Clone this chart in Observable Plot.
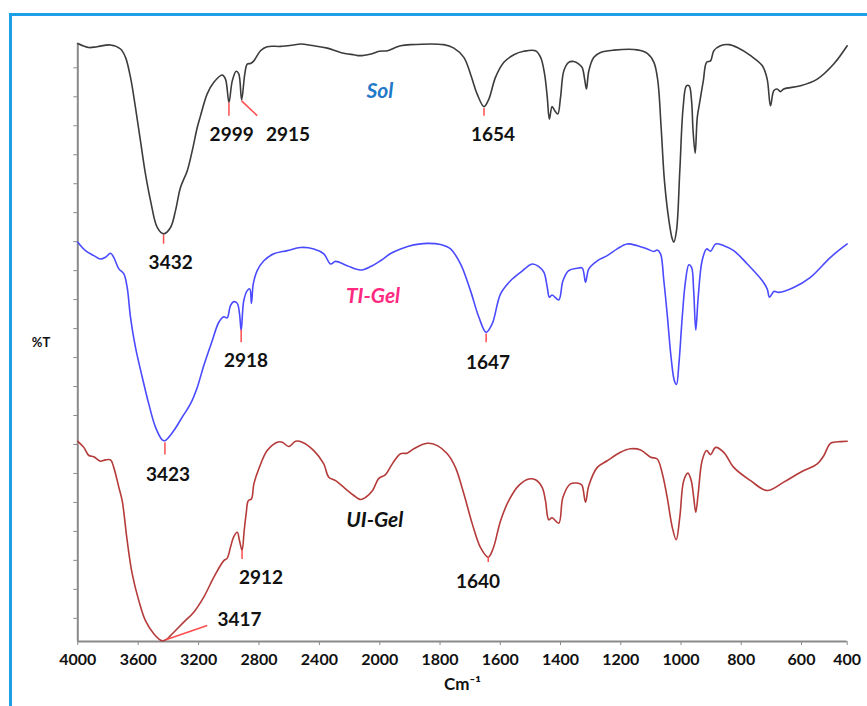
<!DOCTYPE html>
<html><head><meta charset="utf-8">
<script src="https://cdn.jsdelivr.net/npm/d3@7"></script>
<script src="https://cdn.jsdelivr.net/npm/@observablehq/plot@0.6"></script>
<style>
html,body{margin:0;padding:0;background:#fff;}
#wrap{position:relative;width:867px;height:706px;overflow:hidden;}
#frame{position:absolute;left:9px;top:13px;width:900px;height:800px;border-left:3px solid #1ea0e8;border-top:3px solid #1ea0e8;}
#chart{position:absolute;left:0;top:0;}
</style></head><body><div id="wrap"><div id="frame"></div><div id="chart"></div></div>
<script>
// Wavenumber (cm-1) and %T pairs
const solData = [[4000,208.4],[3927,207.0],[3872,207.3],[3783,207.9],[3717,206.5],[3684,203.6],[3651,196.7],[3618,186.3],[3585,174.8],[3552,163.4],[3518,154.1],[3474,144.9],[3432,142.7],[3386,144.9],[3353,150.7],[3320,158.7],[3275,164.5],[3242,171.4],[3209,179.4],[3187,183.5],[3143,191.0],[3099,195.0],[3044,197.5],[3022,196.1],[2999,188.1],[2977,195.5],[2951,198.8],[2934,197.9],[2915,188.9],[2894,197.9],[2878,201.3],[2856,201.5],[2834,202.4],[2790,205.9],[2746,207.3],[2658,207.4],[2569,207.9],[2525,208.2],[2437,207.6],[2348,206.8],[2260,205.3],[2172,204.5],[2132,204.2],[2058,204.8],[2004,205.7],[1974,205.9],[1948,207.0],[1931,207.6],[1898,208.0],[1788,208.0],[1754,206.8],[1721,203.6],[1699,197.9],[1677,191.0],[1654,186.6],[1638,189.2],[1616,196.7],[1588,201.9],[1555,204.5],[1522,205.7],[1483,205.9],[1466,203.6],[1453,197.9],[1444,189.8],[1437,182.3],[1428,186.6],[1419,185.2],[1409,184.1],[1400,189.8],[1389,199.0],[1373,201.9],[1356,202.2],[1339,201.3],[1328,200.1],[1320,196.1],[1314,192.7],[1306,199.0],[1290,203.6],[1267,205.3],[1223,206.1],[1145,206.2],[1112,205.0],[1090,201.9],[1077,195.5],[1066,179.4],[1055,161.0],[1040,147.2],[1029,140.9],[1024,139.8],[1015,143.8],[1004,164.5],[993,186.3],[982,193.8],[973,193.8],[965,188.6],[960,178.3],[953,170.5],[946,182.9],[938,188.1],[926,195.5],[915,201.9],[902,202.4],[891,205.9],[869,207.6],[841,208.0],[813,207.0],[769,204.2],[730,200.7],[714,196.1],[703,186.9],[692,192.1],[681,192.7],[670,191.8],[659,192.7],[603,193.8],[531,196.1],[459,201.3],[400,207.6]];

const tiGelData = [[4000,139.8],[3949,136.9],[3894,135.2],[3850,134.0],[3817,134.6],[3783,136.0],[3762,134.6],[3728,130.6],[3695,128.9],[3673,124.2],[3651,113.9],[3618,103.5],[3573,93.2],[3530,84.0],[3485,75.9],[3441,71.6],[3423,71.3],[3364,74.8],[3309,79.4],[3254,84.0],[3209,89.7],[3166,97.2],[3110,105.8],[3066,112.2],[3033,114.1],[3011,113.7],[2989,117.9],[2967,119.3],[2944,118.7],[2929,115.1],[2918,109.3],[2901,119.6],[2878,123.1],[2861,123.7],[2850,118.7],[2838,125.4],[2812,130.0],[2768,133.4],[2702,135.8],[2613,136.9],[2525,138.0],[2437,137.5],[2371,135.8],[2326,132.3],[2293,133.2],[2216,131.7],[2128,130.2],[2061,131.4],[1998,133.4],[1964,135.9],[1931,137.5],[1887,138.9],[1843,139.4],[1798,139.0],[1765,137.5],[1732,132.3],[1699,123.1],[1671,113.9],[1647,108.7],[1627,111.6],[1599,122.0],[1566,126.5],[1533,129.4],[1494,132.3],[1472,131.4],[1455,129.4],[1444,124.2],[1437,120.8],[1428,121.6],[1406,119.9],[1392,126.5],[1373,130.0],[1345,130.8],[1328,130.9],[1317,126.0],[1306,130.6],[1278,133.4],[1245,135.2],[1212,137.5],[1179,139.2],[1145,138.6],[1112,137.5],[1090,136.6],[1079,137.1],[1068,135.8],[1057,126.5],[1046,115.1],[1033,100.1],[1022,92.0],[1015,90.7],[1007,97.8],[996,113.9],[985,126.5],[974,132.0],[965,131.1],[958,123.1],[951,109.5],[943,120.8],[930,133.4],[915,137.5],[902,136.7],[885,139.2],[858,138.6],[825,136.9],[780,132.3],[730,126.5],[714,123.7],[706,120.8],[692,122.8],[675,122.5],[626,124.2],[561,127.7],[473,134.6],[400,139.2]];

const uiGelData = [[4000,71.1],[3960,69.0],[3927,66.2],[3894,65.8],[3850,64.2],[3817,64.7],[3783,64.7],[3762,62.1],[3728,55.2],[3706,50.6],[3673,36.8],[3640,25.4],[3596,16.1],[3552,9.2],[3497,4.7],[3445,2.3],[3417,2.6],[3364,5.2],[3298,8.7],[3232,12.1],[3166,17.3],[3099,24.2],[3033,29.9],[3011,30.7],[2989,34.5],[2967,38.2],[2944,39.7],[2929,36.8],[2912,33.4],[2898,40.3],[2885,46.1],[2871,50.6],[2850,51.2],[2834,56.4],[2801,61.6],[2746,67.9],[2679,70.8],[2646,70.8],[2603,69.3],[2558,71.1],[2514,70.8],[2437,67.9],[2371,63.3],[2338,58.7],[2293,57.5],[2227,54.7],[2172,52.4],[2128,51.0],[2095,51.7],[2048,54.1],[2008,58.2],[1981,59.6],[1958,63.4],[1931,66.8],[1909,67.0],[1887,68.5],[1843,70.4],[1809,69.6],[1776,66.8],[1749,62.1],[1721,53.0],[1693,42.6],[1666,34.5],[1640,31.1],[1624,34.0],[1599,43.7],[1572,50.6],[1539,55.8],[1505,58.1],[1483,57.8],[1461,55.2],[1450,50.6],[1439,44.0],[1428,44.7],[1406,42.8],[1392,51.8],[1367,56.4],[1334,56.4],[1328,55.8],[1317,50.1],[1306,55.8],[1278,62.1],[1245,64.4],[1201,67.3],[1168,68.5],[1134,68.1],[1101,65.6],[1079,65.0],[1062,59.9],[1046,51.8],[1029,41.4],[1016,37.1],[1004,44.9],[991,57.5],[977,60.1],[966,57.5],[958,51.8],[951,46.6],[943,53.0],[930,64.4],[915,67.9],[902,66.5],[885,69.0],[858,67.3],[825,62.1],[769,57.5],[714,54.1],[659,57.0],[603,60.4],[531,63.3],[502,66.2],[473,70.4],[429,71.0],[400,71.1]];

// Peak labels: text, label position (wn, %T)
const peakLabels = [
  {text: "3432", x: 3385, y: 132.8},
  {text: "2999", x: 2981, y: 177},
  {text: "2915", x: 2608, y: 177},
  {text: "1654", x: 1624, y: 177},
  {text: "3423", x: 3403, y: 59.6},
  {text: "2918", x: 2886, y: 98.8},
  {text: "1647", x: 1641, y: 98.1},
  {text: "2912", x: 2787, y: 23.9},
  {text: "1640", x: 1674, y: 22.5},
  {text: "3417", x: 2929, y: 9.6}
];
// Peak marker segments
const peakMarkers = [
  {x1: 3432, y1: 142.4, x2: 3432, y2: 139.3},
  {x1: 2999, y1: 188.0, x2: 2999, y2: 183.5},
  {x1: 2915, y1: 188.6, x2: 2812, y2: 183.5},
  {x1: 1654, y1: 186.1, x2: 1654, y2: 183.5},
  {x1: 3423, y1: 70.8, x2: 3423, y2: 66.5},
  {x1: 2918, y1: 109.7, x2: 2918, y2: 105.3},
  {x1: 1647, y1: 108.3, x2: 1647, y2: 105.3},
  {x1: 2912, y1: 33.4, x2: 2912, y2: 30.5},
  {x1: 1640, y1: 31.1, x2: 1640, y2: 29.4},
  {x1: 3417, y1: 2.6, x2: 3143, y2: 7.5}
];
const seriesNames = ["Sol", "TI-Gel", "UI-Gel"];
const seriesLabelPos = [[2000, 191.8], [2045, 121], [2033, 43.7]];
const xTicks = [4000, 3600, 3200, 2800, 2400, 2000, 1800, 1600, 1400, 1200, 1000, 800, 600, 400];
const yTicks = [10, 20, 30, 40, 50, 60, 70, 80, 90, 100, 110, 120, 130, 140, 150, 160, 170, 180, 190, 200];

const lineColors = ["#3c3c3c", "#4a4aff", "#b53b3b"];
const nameColors = ["#1f78c8", "#ff2a7f", "#111111"];

const F = "Lato, 'Open Sans', sans-serif";
const chart = Plot.plot({
  width: 867, height: 706,
  marginLeft: 77.3, marginRight: 20.3, marginTop: 42.7, marginBottom: 65,
  style: {fontFamily: F, background: "transparent", overflow: "visible"},
  x: {type: "linear", domain: [4000, 2000, 600, 400], range: [77.3, 379.3, 801, 846.7]},
  y: {domain: [2, 208.5], range: [641, 42.7]},
  marks: [
    Plot.axisX({ticks: xTicks, tickFormat: "d", tickSize: 4, tickPadding: 8, stroke: "#8a8a8a", fill: "#111", fontSize: 16, fontWeight: "bold", label: null}),
    Plot.axisY({ticks: yTicks, tickFormat: () => "", tickSize: 4, stroke: "#8a8a8a", label: null}),
    Plot.ruleX([4000], {stroke: "#8a8a8a", strokeWidth: 2}),
    Plot.ruleY([2], {stroke: "#8a8a8a", strokeWidth: 2}),
    Plot.line(solData, {x: d => d[0], y: d => d[1], stroke: lineColors[0], strokeWidth: 1.6, curve: "catmull-rom"}),
    Plot.line(tiGelData, {x: d => d[0], y: d => d[1], stroke: lineColors[1], strokeWidth: 1.6, curve: "catmull-rom"}),
    Plot.line(uiGelData, {x: d => d[0], y: d => d[1], stroke: lineColors[2], strokeWidth: 1.6, curve: "catmull-rom"}),
    Plot.link(peakMarkers, {x1: "x1", y1: "y1", x2: "x2", y2: "y2", stroke: "#ff4d4d", strokeWidth: 1.5}),
    Plot.text(peakLabels, {x: "x", y: "y", text: "text", fontSize: 19, fontWeight: "bold", fill: "#111", textAnchor: "middle"}),
    ...seriesNames.map((name, i) => Plot.text([name], {x: () => seriesLabelPos[i][0], y: () => seriesLabelPos[i][1], text: d => d, fill: nameColors[i], fontSize: 21, fontWeight: "bold", fontStyle: "italic", textAnchor: "middle"})),
    Plot.text(["%T"], {frameAnchor: "left", dx: -46, text: d => d, fontSize: 13, fontWeight: "bold", fill: "#111"}),
    Plot.text(["Cm⁻¹"], {frameAnchor: "bottom", dy: 48, text: d => d, fontSize: 17, fontWeight: "bold", fill: "#111"})
  ]
});
document.getElementById("chart").appendChild(chart);
</script>
</body></html>
